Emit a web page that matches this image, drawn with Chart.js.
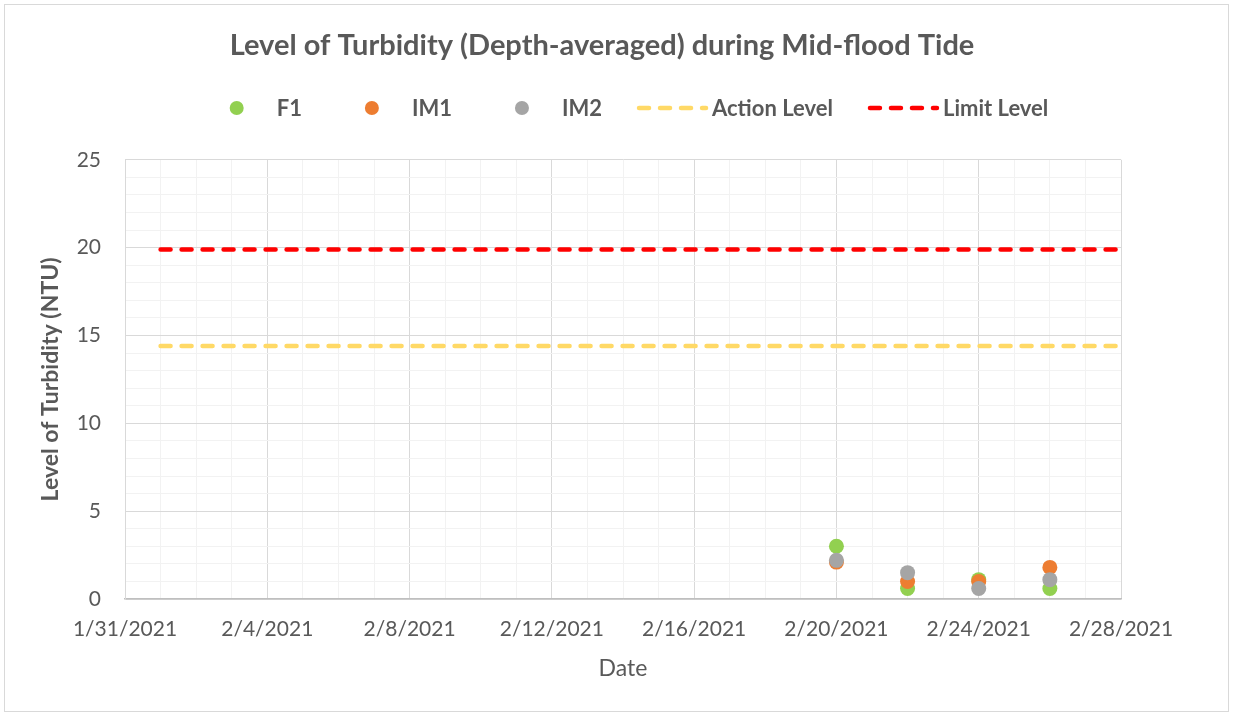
<!DOCTYPE html>
<html>
<head>
<meta charset="utf-8">
<title>Level of Turbidity (Depth-averaged) during Mid-flood Tide</title>
<script src="https://cdn.jsdelivr.net/npm/chart.js@4/dist/chart.umd.min.js"></script>
<style>
  html, body { margin: 0; padding: 0; background: #fff; }
  canvas { display: block; }
</style>
</head>
<body>
<canvas id="turbidity-chart" width="1233" height="715"></canvas>
<script>
const xTickLabels = ["1/31/2021", "2/4/2021", "2/8/2021", "2/12/2021", "2/16/2021", "2/20/2021", "2/24/2021", "2/28/2021"];
const yTickLabels = [0, 5, 10, 15, 20, 25];

const sampleDates = ["2/20/2021", "2/22/2021", "2/24/2021", "2/26/2021"];
const f1 = [3.0, 0.6, 1.1, 0.6];
const im1 = [2.1, 1.0, 1.0, 1.8];
const im2 = [2.2, 1.5, 0.6, 1.1];

const levelDates = ["2/1/2021", "2/28/2021"];
const actionLevel = [14.4, 14.4];
const limitLevel = [19.9, 19.9];

// dates as whole days, so a plain linear axis can be used
function toDay(s) {
  const [m, d, y] = s.split("/").map(Number);
  return Date.UTC(y, m - 1, d) / 86400000;
}
function fromDay(n) {
  const t = new Date(Math.round(n) * 86400000);
  return (t.getUTCMonth() + 1) + "/" + t.getUTCDate() + "/" + t.getUTCFullYear();
}
function points(dates, values) {
  return dates.map((d, i) => ({ x: toDay(d), y: values[i] }));
}

const grey = "#595959";
Chart.defaults.font.family = "Lato";
Chart.defaults.color = grey;

const frame = {
  id: "frame",
  afterLayout(chart) {
    // Excel centres the title a little right of the plot centre
    if (chart.titleBlock) chart.titleBlock.left += 50;
  },
  beforeDraw(chart) {
    const ctx = chart.ctx;
    ctx.save();
    ctx.fillStyle = "#fff";
    ctx.fillRect(0, 0, chart.width, chart.height);
    ctx.strokeStyle = "#D9D9D9";
    ctx.lineWidth = 1;
    ctx.strokeRect(4.5, 4.5, chart.width - 9, chart.height - 8);
    ctx.restore();
  },
};

// legend drawn like Excel: every entry gets the same symbol width
const excelLegend = {
  id: "excelLegend",
  afterDraw(chart) {
    const ctx = chart.ctx;
    const y = 108;
    const symW = 72, textGap = 4, itemGap = 34;
    ctx.save();
    ctx.font = "bold 22px Lato";
    ctx.textBaseline = "middle";
    const items = chart.data.datasets.map((ds) => ({ ds, w: ctx.measureText(ds.label).width }));
    const total = items.reduce((s, it) => s + symW + textGap + it.w, 0) + itemGap * (items.length - 1);
    let x = chart.width / 2 - total / 2 + 8;
    items.forEach(({ ds, w }) => {
      if (ds.showLine) {
        ctx.beginPath();
        ctx.strokeStyle = ds.borderColor;
        ctx.lineWidth = ds.borderWidth;
        ctx.lineCap = "round";
        ctx.setLineDash(ds.borderDash);
        ctx.moveTo(x + 3, y);
        ctx.lineTo(x + symW - 2, y);
        ctx.stroke();
        ctx.setLineDash([]);
      } else {
        ctx.beginPath();
        ctx.fillStyle = ds.backgroundColor;
        ctx.arc(x + symW / 2, y, 7, 0, Math.PI * 2);
        ctx.fill();
      }
      ctx.fillStyle = grey;
      ctx.fillText(ds.label, x + symW + textGap, y + 1);
      x += symW + textGap + w + itemGap;
    });
    ctx.restore();
  },
};

const dot = (label, color, values, order) => ({
  label,
  data: points(sampleDates, values),
  backgroundColor: color,
  borderWidth: 0,
  pointRadius: 7.5,
  pointHoverRadius: 7.5,
  order,
});

const level = (label, color, values) => ({
  label,
  data: points(levelDates, values),
  showLine: true,
  borderColor: color,
  borderWidth: 4.5,
  borderDash: [10, 11],
  borderCapStyle: "round",
  pointRadius: 0,
  order: 0,
});

new Chart(document.getElementById("turbidity-chart"), {
  type: "scatter",
  data: {
    datasets: [
      dot("F1", "#92D050", f1, 3),
      dot("IM1", "#ED7D31", im1, 2),
      dot("IM2", "#A5A5A5", im2, 1),
      level("Action Level", "#FFD966", actionLevel),
      level("Limit Level", "#FF0000", limitLevel),
    ],
  },
  options: {
    responsive: false,
    animation: false,
    layout: { padding: { left: 33, right: 112, top: 0, bottom: 33 } },
    scales: {
      x: {
        type: "linear",
        min: toDay(xTickLabels[0]),
        max: toDay(xTickLabels[xTickLabels.length - 1]),
        afterFit: (scale) => { scale.height = 83; },
        ticks: {
          stepSize: 1,
          autoSkip: false,
          maxRotation: 0,
          padding: 18,
          font: { size: 21 },
          color: grey,
          callback: (v) => (xTickLabels.includes(fromDay(v)) ? fromDay(v) : ""),
        },
        grid: {
          drawTicks: false,
          color: (c) => (c.tick && xTickLabels.includes(fromDay(c.tick.value)) ? "#D9D9D9" : "#F2F2F2"),
        },
        border: { color: "#BFBFBF", width: 1.5 },
        title: {
          display: true,
          text: "Date",
          font: { size: 23 },
          color: grey,
          padding: { top: 4, bottom: 0 },
        },
      },
      y: {
        min: 0,
        max: 25,
        afterFit: (scale) => { scale.width = 92; },
        ticks: {
          stepSize: 1,
          autoSkip: false,
          padding: 24,
          font: { size: 21 },
          color: grey,
          callback: (v) => (yTickLabels.includes(v) ? v : ""),
        },
        grid: {
          drawTicks: false,
          color: (c) => (c.tick && yTickLabels.includes(c.tick.value) ? "#D9D9D9" : "#F2F2F2"),
        },
        border: { color: "#D9D9D9" },
        title: {
          display: true,
          text: "Level of Turbidity (NTU)",
          font: { size: 23, weight: "bold" },
          color: grey,
          padding: { top: 4, bottom: 4 },
        },
      },
    },
    plugins: {
      legend: { display: false },
      tooltip: { enabled: false },
      title: {
        display: true,
        text: "Level of Turbidity (Depth-averaged) during Mid-flood Tide",
        font: { size: 29, weight: "bold" },
        color: grey,
        padding: { top: 28, bottom: 97 },
      },
    },
  },
  plugins: [frame, excelLegend],
});
</script>
</body>
</html>
